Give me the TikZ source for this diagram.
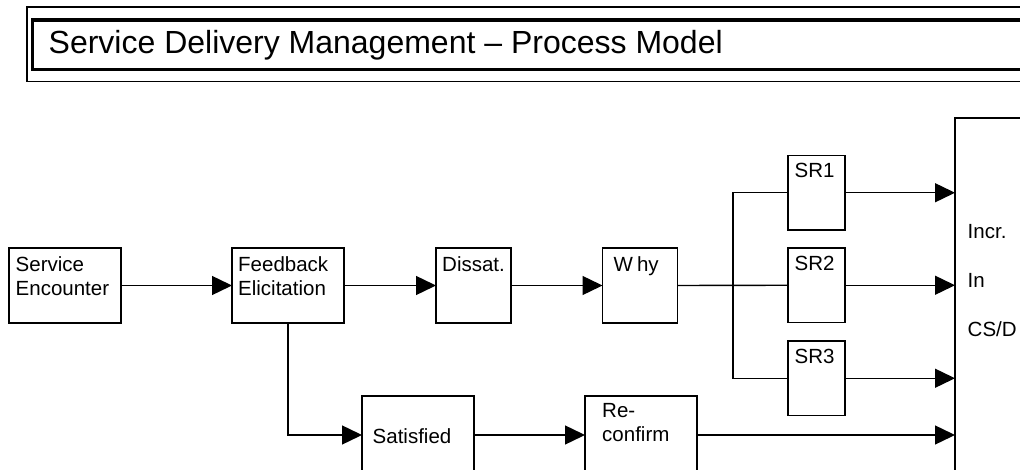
\documentclass[tikz,border=0pt]{standalone}
\usepackage{fontspec}
\setmainfont{Liberation Sans}
\usetikzlibrary{arrows.meta}
\begin{document}
\begin{tikzpicture}[x=1pt,y=-1pt,
  line width=1.4pt,
  box/.style 2 args={draw, rectangle, inner sep=0pt, outer sep=0pt,
      minimum width=#1, minimum height=#2, anchor=north west},
  txt/.style={font=\fontsize{20.5}{24}\selectfont, align=left, anchor=north west, inner sep=0pt},
  flow/.style={-{Triangle[length=20pt,width=19pt]}},
]
\useasboundingbox (0,0) rectangle (1020,470);
\clip (0,0) rectangle (1020,470);
% title frames
\node[box={1020pt}{74.5pt}, line width=1.5pt] (outer) at (27,7) {};
\node[box={1020pt}{49.5pt}, line width=3.5pt] (inner) at (32.5,20) {};
\node[anchor=base west, inner sep=0pt, font=\fontsize{32}{38}\selectfont] (title) at (48,53.5) {Service Delivery Management – Process Model};
% boxes
\node[box={112pt}{75pt}, label={[txt,xshift=6pt,yshift=-8pt]north west:Service\\Encounter}] (se) at (9,248) {};
\node[box={112pt}{75pt}, label={[txt,xshift=5.5pt,yshift=-8pt]north west:Feedback\\Elicitation}] (fe) at (232,248) {};
\node[box={75pt}{75pt}, label={[txt,xshift=5.5pt,yshift=-8pt]north west:Dissat.}] (ds) at (436,248) {};
\node[box={75pt}{75pt}, label={[txt,xshift=10.5pt,yshift=-8pt]north west:W\kern4pt hy}] (why) at (602.5,248) {};
\node[box={57pt}{74.5pt}, label={[txt,xshift=6pt,yshift=-7pt]north west:SR1}] (sr1) at (788,155.5) {};
\node[box={57pt}{74.5pt}, label={[txt,xshift=6pt,yshift=-7pt]north west:SR2}] (sr2) at (788,248) {};
\node[box={57pt}{74.5pt}, label={[txt,xshift=6pt,yshift=-7pt]north west:SR3}] (sr3) at (788,341) {};
\node[box={200pt}{420pt}] (big) at (955,118) {};
\node[txt, font=\fontsize{20.5}{49}\selectfont] (incr) at (967,223.5) {Incr.\\In\\CS/D};
\node[box={112pt}{78pt}, label={[txt,xshift=10pt,yshift=-32pt]north west:Satisfied}] (sat) at (362,396) {};
\node[box={112pt}{78pt}, label={[txt,xshift=16.5pt,yshift=-7pt]north west:Re-\\confirm}] (rc) at (585,396) {};
% connectors
\coordinate (j) at (733,285.5);
\draw[flow] (se.east) -- (fe.west);
\draw[flow] (fe.east) -- (ds.west);
\draw[flow] (ds.east) -- (why.west);
\draw (why.east) -- (sr2.west);
\draw (sr1.west) -- (sr1.west -| j) -- (sr3.west -| j) -- (sr3.west);
\draw[flow] (sr1.east) -- (sr1.east -| big.west);
\draw[flow] (sr2.east) -- (sr2.east -| big.west);
\draw[flow] (sr3.east) -- (sr3.east -| big.west);
\draw[flow] (fe.south) |- (sat.west);
\draw[flow] (sat.east) -- (rc.west);
\draw[flow] (rc.east) -- (rc.east -| big.west);
\end{tikzpicture}
\end{document}
